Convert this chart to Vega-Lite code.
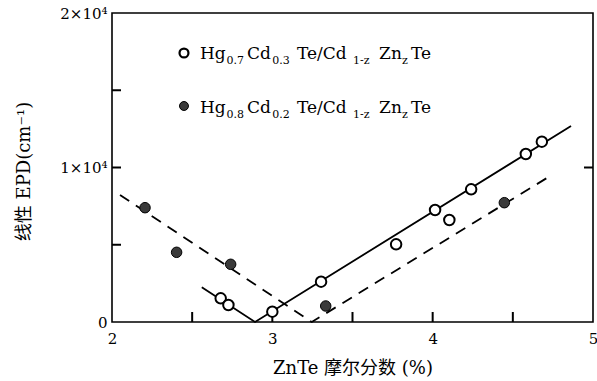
{
  "$schema": "https://vega.github.io/schema/vega-lite/v6.json",
  "width": 481,
  "height": 309,
  "autosize": {"type": "none"},
  "padding": {"left": 112, "top": 13, "right": 4, "bottom": 59},
  "background": "white",
  "config": {
    "view": {"stroke": "black", "strokeWidth": 1.6},
    "axis": {
      "domain": false,
      "grid": false,
      "ticks": false,
      "labelFlush": false,
      "labelColor": "black",
      "titleColor": "black",
      "labelFont": "DejaVu Serif",
      "labelFontSize": 15,
      "titleFont": "DejaVu Serif, Noto Sans CJK SC",
      "titleFontSize": 18,
      "titleFontWeight": "normal"
    }
  },
  "datasets": {
    "pts": [
      {"series": "A", "x": 2.678, "y": 1534},
      {"series": "A", "x": 2.726, "y": 1100},
      {"series": "A", "x": 3.0, "y": 667},
      {"series": "A", "x": 3.304, "y": 2608},
      {"series": "A", "x": 3.772, "y": 5029},
      {"series": "A", "x": 4.015, "y": 7249},
      {"series": "A", "x": 4.104, "y": 6602},
      {"series": "A", "x": 4.24, "y": 8589},
      {"series": "A", "x": 4.581, "y": 10874},
      {"series": "A", "x": 4.681, "y": 11670},
      {"series": "B", "x": 2.206, "y": 7398},
      {"series": "B", "x": 2.403, "y": 4511},
      {"series": "B", "x": 2.74, "y": 3735},
      {"series": "B", "x": 3.333, "y": 1036},
      {"series": "B", "x": 4.447, "y": 7722}
    ],
    "fits": [
      {"series": "A", "x": 2.56, "y": 2246},
      {"series": "A", "x": 2.892, "y": 0},
      {"series": "A", "x": 4.863, "y": 12686},
      {"series": "B", "x": 2.05, "y": 8220},
      {"series": "B", "x": 3.246, "y": 0},
      {"series": "B", "x": 4.743, "y": 9515}
    ],
    "xticks": [{"x": 2.5}, {"x": 3}, {"x": 3.5}, {"x": 4}, {"x": 4.5}],
    "yticks": [{"y": 5000}, {"y": 10000}, {"y": 15000}],
    "rticks": [{"y": 10000}],
    "keys": [
      {"series": "A", "x": 2.449, "y": 17411},
      {"series": "B", "x": 2.449, "y": 13981}
    ],
    "legendText": [
      {"series": "A", "kind": "main", "t": "Hg", "x": 2.549, "y": 17023},
      {"series": "A", "kind": "sub", "t": "0.7", "x": 2.714, "y": 17023},
      {"series": "A", "kind": "main", "t": "Cd", "x": 2.842, "y": 17023},
      {"series": "A", "kind": "sub", "t": "0.3", "x": 3.0, "y": 17023},
      {"series": "A", "kind": "main", "t": "Te/Cd", "x": 3.154, "y": 17023},
      {"series": "A", "kind": "sub", "t": "1-z", "x": 3.503, "y": 17023},
      {"series": "A", "kind": "main", "t": "Zn", "x": 3.666, "y": 17023},
      {"series": "A", "kind": "sub", "t": "z", "x": 3.809, "y": 17023},
      {"series": "A", "kind": "main", "t": "Te", "x": 3.865, "y": 17023},
      {"series": "B", "kind": "main", "t": "Hg", "x": 2.549, "y": 13528},
      {"series": "B", "kind": "sub", "t": "0.8", "x": 2.714, "y": 13528},
      {"series": "B", "kind": "main", "t": "Cd", "x": 2.842, "y": 13528},
      {"series": "B", "kind": "sub", "t": "0.2", "x": 3.0, "y": 13528},
      {"series": "B", "kind": "main", "t": "Te/Cd", "x": 3.154, "y": 13528},
      {"series": "B", "kind": "sub", "t": "1-z", "x": 3.503, "y": 13528},
      {"series": "B", "kind": "main", "t": "Zn", "x": 3.666, "y": 13528},
      {"series": "B", "kind": "sub", "t": "z", "x": 3.809, "y": 13528},
      {"series": "B", "kind": "main", "t": "Te", "x": 3.865, "y": 13528}
    ]
  },
  "layer": [
    {
      "data": {"name": "fits"},
      "transform": [{"filter": "datum.series == 'A'"}],
      "mark": {"type": "line", "color": "black", "strokeWidth": 1.8},
      "encoding": {
        "x": {
          "field": "x", "type": "quantitative",
          "scale": {"domain": [2, 5], "nice": false, "zero": false},
          "axis": {
            "values": [2, 3, 4, 5],
            "format": "d",
            "labelPadding": 9,
            "title": "ZnTe 摩尔分数 (%)",
            "titleY": 46,
            "titleBaseline": "middle"
          }
        },
        "y": {
          "field": "y", "type": "quantitative",
          "scale": {"domain": [0, 20000], "nice": false},
          "axis": {
            "values": [0, 10000, 20000],
            "labelExpr": "datum.value == 0 ? '0' : datum.value == 10000 ? '1×10⁴' : '2×10⁴'",
            "labelPadding": 5,
            "title": "线性 EPD(cm⁻¹)",
            "titleX": -88,
            "titleY": 158,
            "titleBaseline": "middle"
          }
        }
      }
    },
    {
      "data": {"name": "fits"},
      "transform": [{"filter": "datum.series == 'B'"}],
      "mark": {"type": "line", "color": "black", "strokeWidth": 1.8, "strokeDash": [11, 8]},
      "encoding": {
        "x": {"field": "x", "type": "quantitative"},
        "y": {"field": "y", "type": "quantitative"}
      }
    },
    {
      "data": {"name": "xticks"},
      "mark": {"type": "tick", "orient": "vertical", "size": 10, "thickness": 2, "color": "black", "opacity": 1, "yOffset": -5},
      "encoding": {
        "x": {"field": "x", "type": "quantitative"},
        "y": {"datum": 0, "type": "quantitative"}
      }
    },
    {
      "data": {"name": "yticks"},
      "mark": {"type": "tick", "orient": "horizontal", "size": 9, "thickness": 2, "color": "black", "opacity": 1, "xOffset": 4.5},
      "encoding": {
        "y": {"field": "y", "type": "quantitative"},
        "x": {"datum": 2, "type": "quantitative"}
      }
    },
    {
      "data": {"name": "rticks"},
      "mark": {"type": "tick", "orient": "horizontal", "size": 9, "thickness": 2, "color": "black", "opacity": 1, "xOffset": -4.5},
      "encoding": {
        "y": {"field": "y", "type": "quantitative"},
        "x": {"datum": 5, "type": "quantitative"}
      }
    },
    {
      "data": {"name": "pts"},
      "transform": [{"filter": "datum.series == 'A'"}],
      "mark": {"type": "point", "shape": "circle", "size": 110, "filled": false, "fill": "white", "fillOpacity": 1, "stroke": "black", "strokeWidth": 2, "opacity": 1},
      "encoding": {
        "x": {"field": "x", "type": "quantitative"},
        "y": {"field": "y", "type": "quantitative"}
      }
    },
    {
      "data": {"name": "pts"},
      "transform": [{"filter": "datum.series == 'B'"}],
      "mark": {"type": "point", "shape": "circle", "size": 110, "filled": true, "fill": "#3a3a3a", "stroke": "black", "strokeWidth": 1, "opacity": 1},
      "encoding": {
        "x": {"field": "x", "type": "quantitative"},
        "y": {"field": "y", "type": "quantitative"}
      }
    },
    {
      "data": {"name": "keys"},
      "transform": [{"filter": "datum.series == 'A'"}],
      "mark": {"type": "point", "shape": "circle", "size": 80, "filled": false, "fill": "white", "fillOpacity": 1, "stroke": "black", "strokeWidth": 2.2, "opacity": 1},
      "encoding": {
        "x": {"field": "x", "type": "quantitative"},
        "y": {"field": "y", "type": "quantitative"}
      }
    },
    {
      "data": {"name": "keys"},
      "transform": [{"filter": "datum.series == 'B'"}],
      "mark": {"type": "point", "shape": "circle", "size": 80, "filled": true, "fill": "#3a3a3a", "stroke": "black", "strokeWidth": 1, "opacity": 1},
      "encoding": {
        "x": {"field": "x", "type": "quantitative"},
        "y": {"field": "y", "type": "quantitative"}
      }
    },
    {
      "data": {"name": "legendText"},
      "transform": [{"filter": "datum.kind == 'main'"}],
      "mark": {"type": "text", "align": "left", "baseline": "alphabetic", "font": "DejaVu Serif", "fontSize": 17, "color": "black"},
      "encoding": {
        "x": {"field": "x", "type": "quantitative"},
        "y": {"field": "y", "type": "quantitative"},
        "text": {"field": "t"}
      }
    },
    {
      "data": {"name": "legendText"},
      "transform": [{"filter": "datum.kind == 'sub'"}],
      "mark": {"type": "text", "align": "left", "baseline": "alphabetic", "font": "DejaVu Serif", "fontSize": 11, "dy": 5, "color": "black"},
      "encoding": {
        "x": {"field": "x", "type": "quantitative"},
        "y": {"field": "y", "type": "quantitative"},
        "text": {"field": "t"}
      }
    }
  ]
}
